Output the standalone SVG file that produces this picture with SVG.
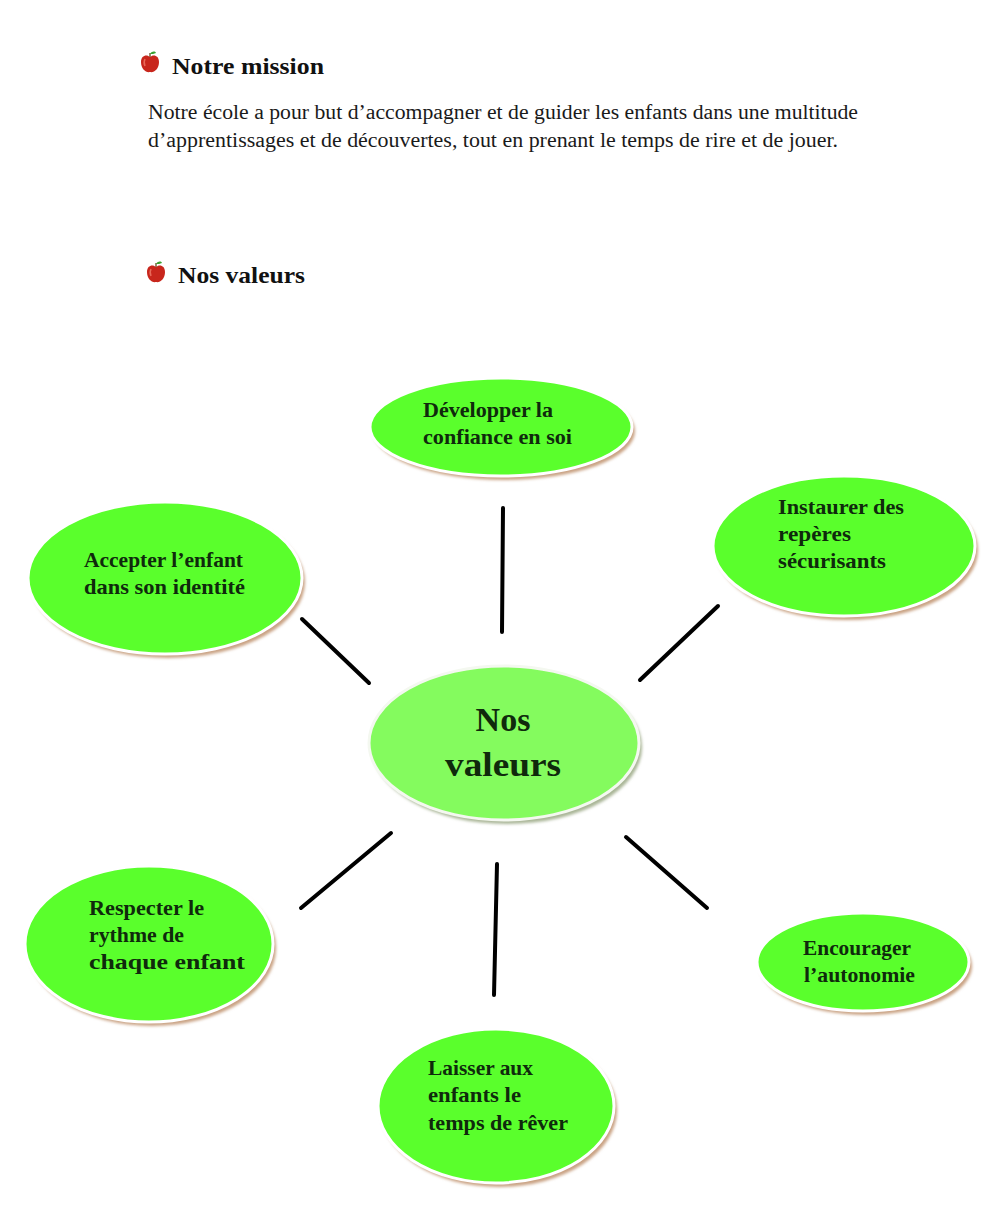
<svg xmlns="http://www.w3.org/2000/svg" width="999" height="1212" viewBox="0 0 999 1212">
<defs>
<style>
.h{font-family:"Liberation Serif",serif;font-weight:bold;font-size:23px;fill:#111}
.p{font-family:"Liberation Serif",serif;font-size:20px;fill:#1a1a1a}
.n{font-family:"Liberation Serif",serif;font-weight:bold;font-size:21px;fill:#0f2a0c}
.c{font-family:"Liberation Serif",serif;font-weight:bold;font-size:34px;fill:#0f2a0c}
.node{fill:#5aff2c;stroke:#fff;stroke-width:3}
.center{fill:#84fb5e;stroke:#f4f8f0;stroke-width:3}
.sh{fill:#c9a283;filter:url(#blur)}
.shc{fill:#a9b596;filter:url(#blur)}
.con line{stroke:#000;stroke-width:4;stroke-linecap:round}
</style>
<filter id="blur" x="-10%" y="-10%" width="120%" height="120%"><feGaussianBlur stdDeviation="1.5"/></filter>
<g id="apple">
<path d="M0,-6 C-3,-9 -9,-8 -9,-1 C-9,6 -4,10 0,9 C4,10 9,6 9,-1 C9,-8 3,-9 0,-6 Z" fill="#c8261c"/>
<path d="M-5,-4 C-6,-2 -6,1 -5,3" stroke="#e86a5a" stroke-width="1.5" fill="none"/>
<path d="M0,-6 L0,-10" stroke="#6a4a20" stroke-width="1.3"/>
<path d="M0,-9 C2,-12 5,-12 6,-10 C4,-9 2,-9 0,-9 Z" fill="#3aa030"/>
</g>
</defs>
<rect width="999" height="1212" fill="#fff"/>

<g id="header">
<use href="#apple" x="150" y="63"/>
<text class="h" x="172" y="74" textLength="152" lengthAdjust="spacingAndGlyphs">Notre mission</text>
<text class="p" x="148" y="119" textLength="710" lengthAdjust="spacingAndGlyphs">Notre école a pour but d’accompagner et de guider les enfants dans une multitude</text>
<text class="p" x="148" y="147" textLength="690" lengthAdjust="spacingAndGlyphs">d’apprentissages et de découvertes, tout en prenant le temps de rire et de jouer.</text>
<use href="#apple" x="156" y="273"/>
<text class="h" x="178" y="283" textLength="127" lengthAdjust="spacingAndGlyphs">Nos valeurs</text>
</g>

<g id="connectors" class="con">
<line x1="503" y1="508" x2="502" y2="632"/>
<line x1="302" y1="619" x2="369" y2="683"/>
<line x1="718" y1="606" x2="640" y2="680"/>
<line x1="391" y1="833" x2="301" y2="908"/>
<line x1="497" y1="864" x2="494" y2="995"/>
<line x1="626" y1="837" x2="707" y2="908"/>
</g>

<g id="n-center">
<ellipse class="shc" cx="507" cy="747" rx="135" ry="77"/>
<ellipse class="center" cx="504" cy="743" rx="135" ry="77"/>
<text class="c" x="503" y="731" text-anchor="middle">Nos</text>
<text class="c" x="503" y="776" text-anchor="middle" textLength="116" lengthAdjust="spacingAndGlyphs">valeurs</text>
</g>

<g id="n-developper">
<ellipse class="sh" cx="504" cy="431" rx="131" ry="49"/>
<ellipse class="node" cx="501" cy="427" rx="131" ry="49"/>
<text class="n" x="423" y="417" textLength="130" lengthAdjust="spacingAndGlyphs">Développer la</text>
<text class="n" x="423" y="444" textLength="149" lengthAdjust="spacingAndGlyphs">confiance en soi</text>
</g>

<g id="n-instaurer">
<ellipse class="sh" cx="847" cy="550" rx="131" ry="70"/>
<ellipse class="node" cx="844" cy="546" rx="131" ry="70"/>
<text class="n" x="778" y="514" textLength="126" lengthAdjust="spacingAndGlyphs">Instaurer des</text>
<text class="n" x="778" y="541" textLength="73" lengthAdjust="spacingAndGlyphs">repères</text>
<text class="n" x="778" y="568" textLength="108" lengthAdjust="spacingAndGlyphs">sécurisants</text>
</g>

<g id="n-accepter">
<ellipse class="sh" cx="168" cy="582" rx="137" ry="76"/>
<ellipse class="node" cx="165" cy="578" rx="137" ry="76"/>
<text class="n" x="84" y="567" textLength="159" lengthAdjust="spacingAndGlyphs">Accepter l’enfant</text>
<text class="n" x="84" y="594" textLength="161" lengthAdjust="spacingAndGlyphs">dans son identité</text>
</g>

<g id="n-respecter">
<ellipse class="sh" cx="152" cy="948" rx="124" ry="78"/>
<ellipse class="node" cx="149" cy="944" rx="124" ry="78"/>
<text class="n" x="89" y="915" textLength="115" lengthAdjust="spacingAndGlyphs">Respecter le</text>
<text class="n" x="89" y="942" textLength="95" lengthAdjust="spacingAndGlyphs">rythme de</text>
<text class="n" x="89" y="969" textLength="156" lengthAdjust="spacingAndGlyphs">chaque enfant</text>
</g>

<g id="n-encourager">
<ellipse class="sh" cx="866" cy="966" rx="106" ry="49"/>
<ellipse class="node" cx="863" cy="962" rx="106" ry="49"/>
<text class="n" x="803" y="955" textLength="108" lengthAdjust="spacingAndGlyphs">Encourager</text>
<text class="n" x="804" y="982" textLength="111" lengthAdjust="spacingAndGlyphs">l’autonomie</text>
</g>

<g id="n-laisser">
<ellipse class="sh" cx="499" cy="1110" rx="118" ry="77"/>
<ellipse class="node" cx="496" cy="1106" rx="118" ry="77"/>
<text class="n" x="428" y="1075" textLength="105" lengthAdjust="spacingAndGlyphs">Laisser aux</text>
<text class="n" x="428" y="1102" textLength="93" lengthAdjust="spacingAndGlyphs">enfants le</text>
<text class="n" x="428" y="1130" textLength="140" lengthAdjust="spacingAndGlyphs">temps de rêver</text>
</g>
</svg>
